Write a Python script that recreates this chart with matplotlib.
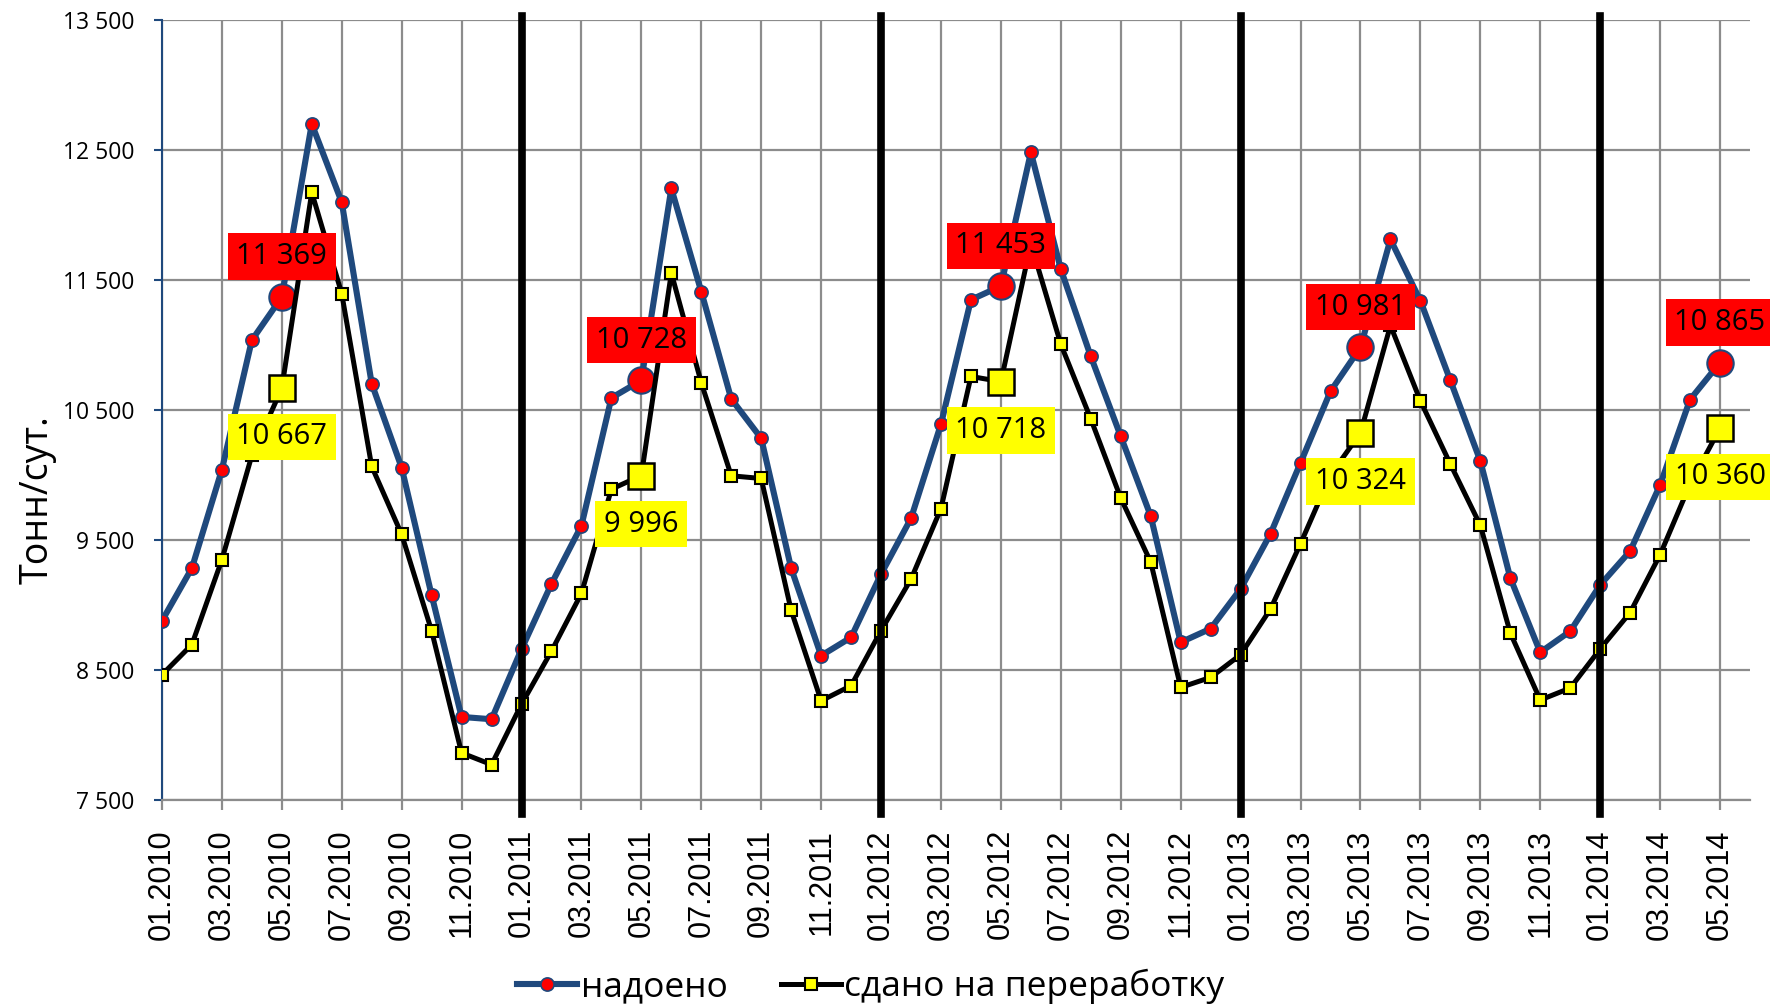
import matplotlib
matplotlib.use('Agg')
import matplotlib.pyplot as plt

# months 01.2010 .. 05.2014
years = [2010, 2011, 2012, 2013, 2014]
month_labels = [f'{m:02d}.{y}' for y in years for m in range(1, 13)][:53]

nadoeno = [8878, 9284, 10041, 11037, 11369, 12700, 12099, 10703, 10056, 9076, 8139, 8121,
           8660, 9163, 9610, 10593, 10728, 12204, 11410, 10585, 10282, 9282, 8610, 8751,
           9238, 9667, 10392, 11348, 11453, 12482, 11582, 10912, 10297, 9684, 8713, 8818,
           9124, 9549, 10094, 10644, 10981, 11812, 11340, 10727, 10108, 9208, 8636, 8798,
           9154, 9415, 9923, 10580, 10865]
sdano = [8463, 8696, 9348, 10150, 10667, 12174, 11395, 10066, 9543, 8801, 7862, 7772,
         8237, 8645, 9089, 9891, 9996, 11554, 10709, 9994, 9973, 8958, 8263, 8379,
         8803, 9199, 9742, 10758, 10718, 11780, 11005, 10431, 9822, 9330, 8366, 8443,
         8618, 8970, 9472, 10000, 10324, 11150, 10570, 10084, 9613, 8785, 8269, 8361,
         8662, 8942, 9387, 9930, 10360]

may_idx = [4, 16, 28, 40, 52]        # highlighted points (May of each year)
year_starts = [12, 24, 36, 48]       # 01.2011 .. 01.2014

y_ticks = [7500, 8500, 9500, 10500, 11500, 12500, 13500]

BLUE = '#1F497D'
GRID = '#8C8C8C'
MAIN_FONT = ['Open Sans', 'DejaVu Sans']
TICK_FONT = ['Liberation Sans', 'DejaVu Sans']


def fmt(v):
    return f'{v:,}'.replace(',', ' ')


fig = plt.figure(figsize=(17.7, 10.05), dpi=100)
ax = fig.add_axes([0.0915, 0.204, 0.8972, 0.7761])

x = list(range(len(nadoeno)))

l1, = ax.plot(x, nadoeno, color=BLUE, lw=4.4, marker='o', ms=9.5,
              mfc='red', mec=BLUE, mew=1.2, zorder=3, label='надоено')
l2, = ax.plot(x, sdano, color='black', lw=3.6, marker='s', ms=9,
              mfc='yellow', mec='black', mew=1.5, zorder=4,
              label='сдано на переработку')

ax.plot(may_idx, [nadoeno[i] for i in may_idx], ls='none', marker='o', ms=19,
        mfc='red', mec=BLUE, mew=1.5, zorder=3)
ax.plot(may_idx, [sdano[i] for i in may_idx], ls='none', marker='s', ms=19,
        mfc='yellow', mec='black', mew=1.8, zorder=4)

for xs in year_starts:
    ax.axvline(xs, ymin=-0.018, ymax=1.005, color='black', lw=5.5,
               clip_on=False, zorder=5)

for i in may_idx:
    ax.annotate(fmt(nadoeno[i]), (i, nadoeno[i]), xytext=(0, 29),
                textcoords='offset points', ha='center', va='center',
                fontsize=21, family=MAIN_FONT, zorder=10,
                bbox=dict(boxstyle='square,pad=0.3', fc='red', ec='none'))
    ax.annotate(fmt(sdano[i]), (i, sdano[i]), xytext=(0, -35),
                textcoords='offset points', ha='center', va='center',
                fontsize=21, family=MAIN_FONT, zorder=10,
                bbox=dict(boxstyle='square,pad=0.3', fc='yellow', ec='none'))

ax.set_xlim(0, 53)
ax.set_ylim(7500, 13500)
ax.set_yticks(y_ticks)
ax.set_yticklabels([fmt(v) for v in y_ticks], family=MAIN_FONT, fontsize=16.5)
ax.set_xticks(x[::2])
ax.set_xticklabels(month_labels[::2], rotation=90, family=TICK_FONT, fontsize=22)

ax.grid(True, color=GRID, lw=1.6, zorder=0)
ax.set_axisbelow(True)
ax.tick_params(axis='y', direction='out', length=6, width=1.5, color=BLUE, pad=14)
ax.tick_params(axis='x', direction='out', length=7, width=1.6, color=GRID, pad=14)

ax.spines['top'].set_visible(False)
ax.spines['right'].set_visible(False)
ax.spines['left'].set_color(BLUE)
ax.spines['left'].set_linewidth(1.5)
ax.spines['bottom'].set_color(GRID)
ax.spines['bottom'].set_linewidth(1.6)

fig.text(0.021, 0.5025, 'Тонн/сут.', rotation=90, ha='center', va='center',
         fontsize=27, family=MAIN_FONT)

fig.legend(handles=[l1, l2], loc='lower center', bbox_to_anchor=(0.492, -0.024),
           ncol=2, frameon=False, prop={'family': MAIN_FONT, 'size': 25.5},
           handlelength=1.7, handletextpad=0.1, columnspacing=1.5, borderpad=0.2)

fig.savefig('out.png', dpi=100)
